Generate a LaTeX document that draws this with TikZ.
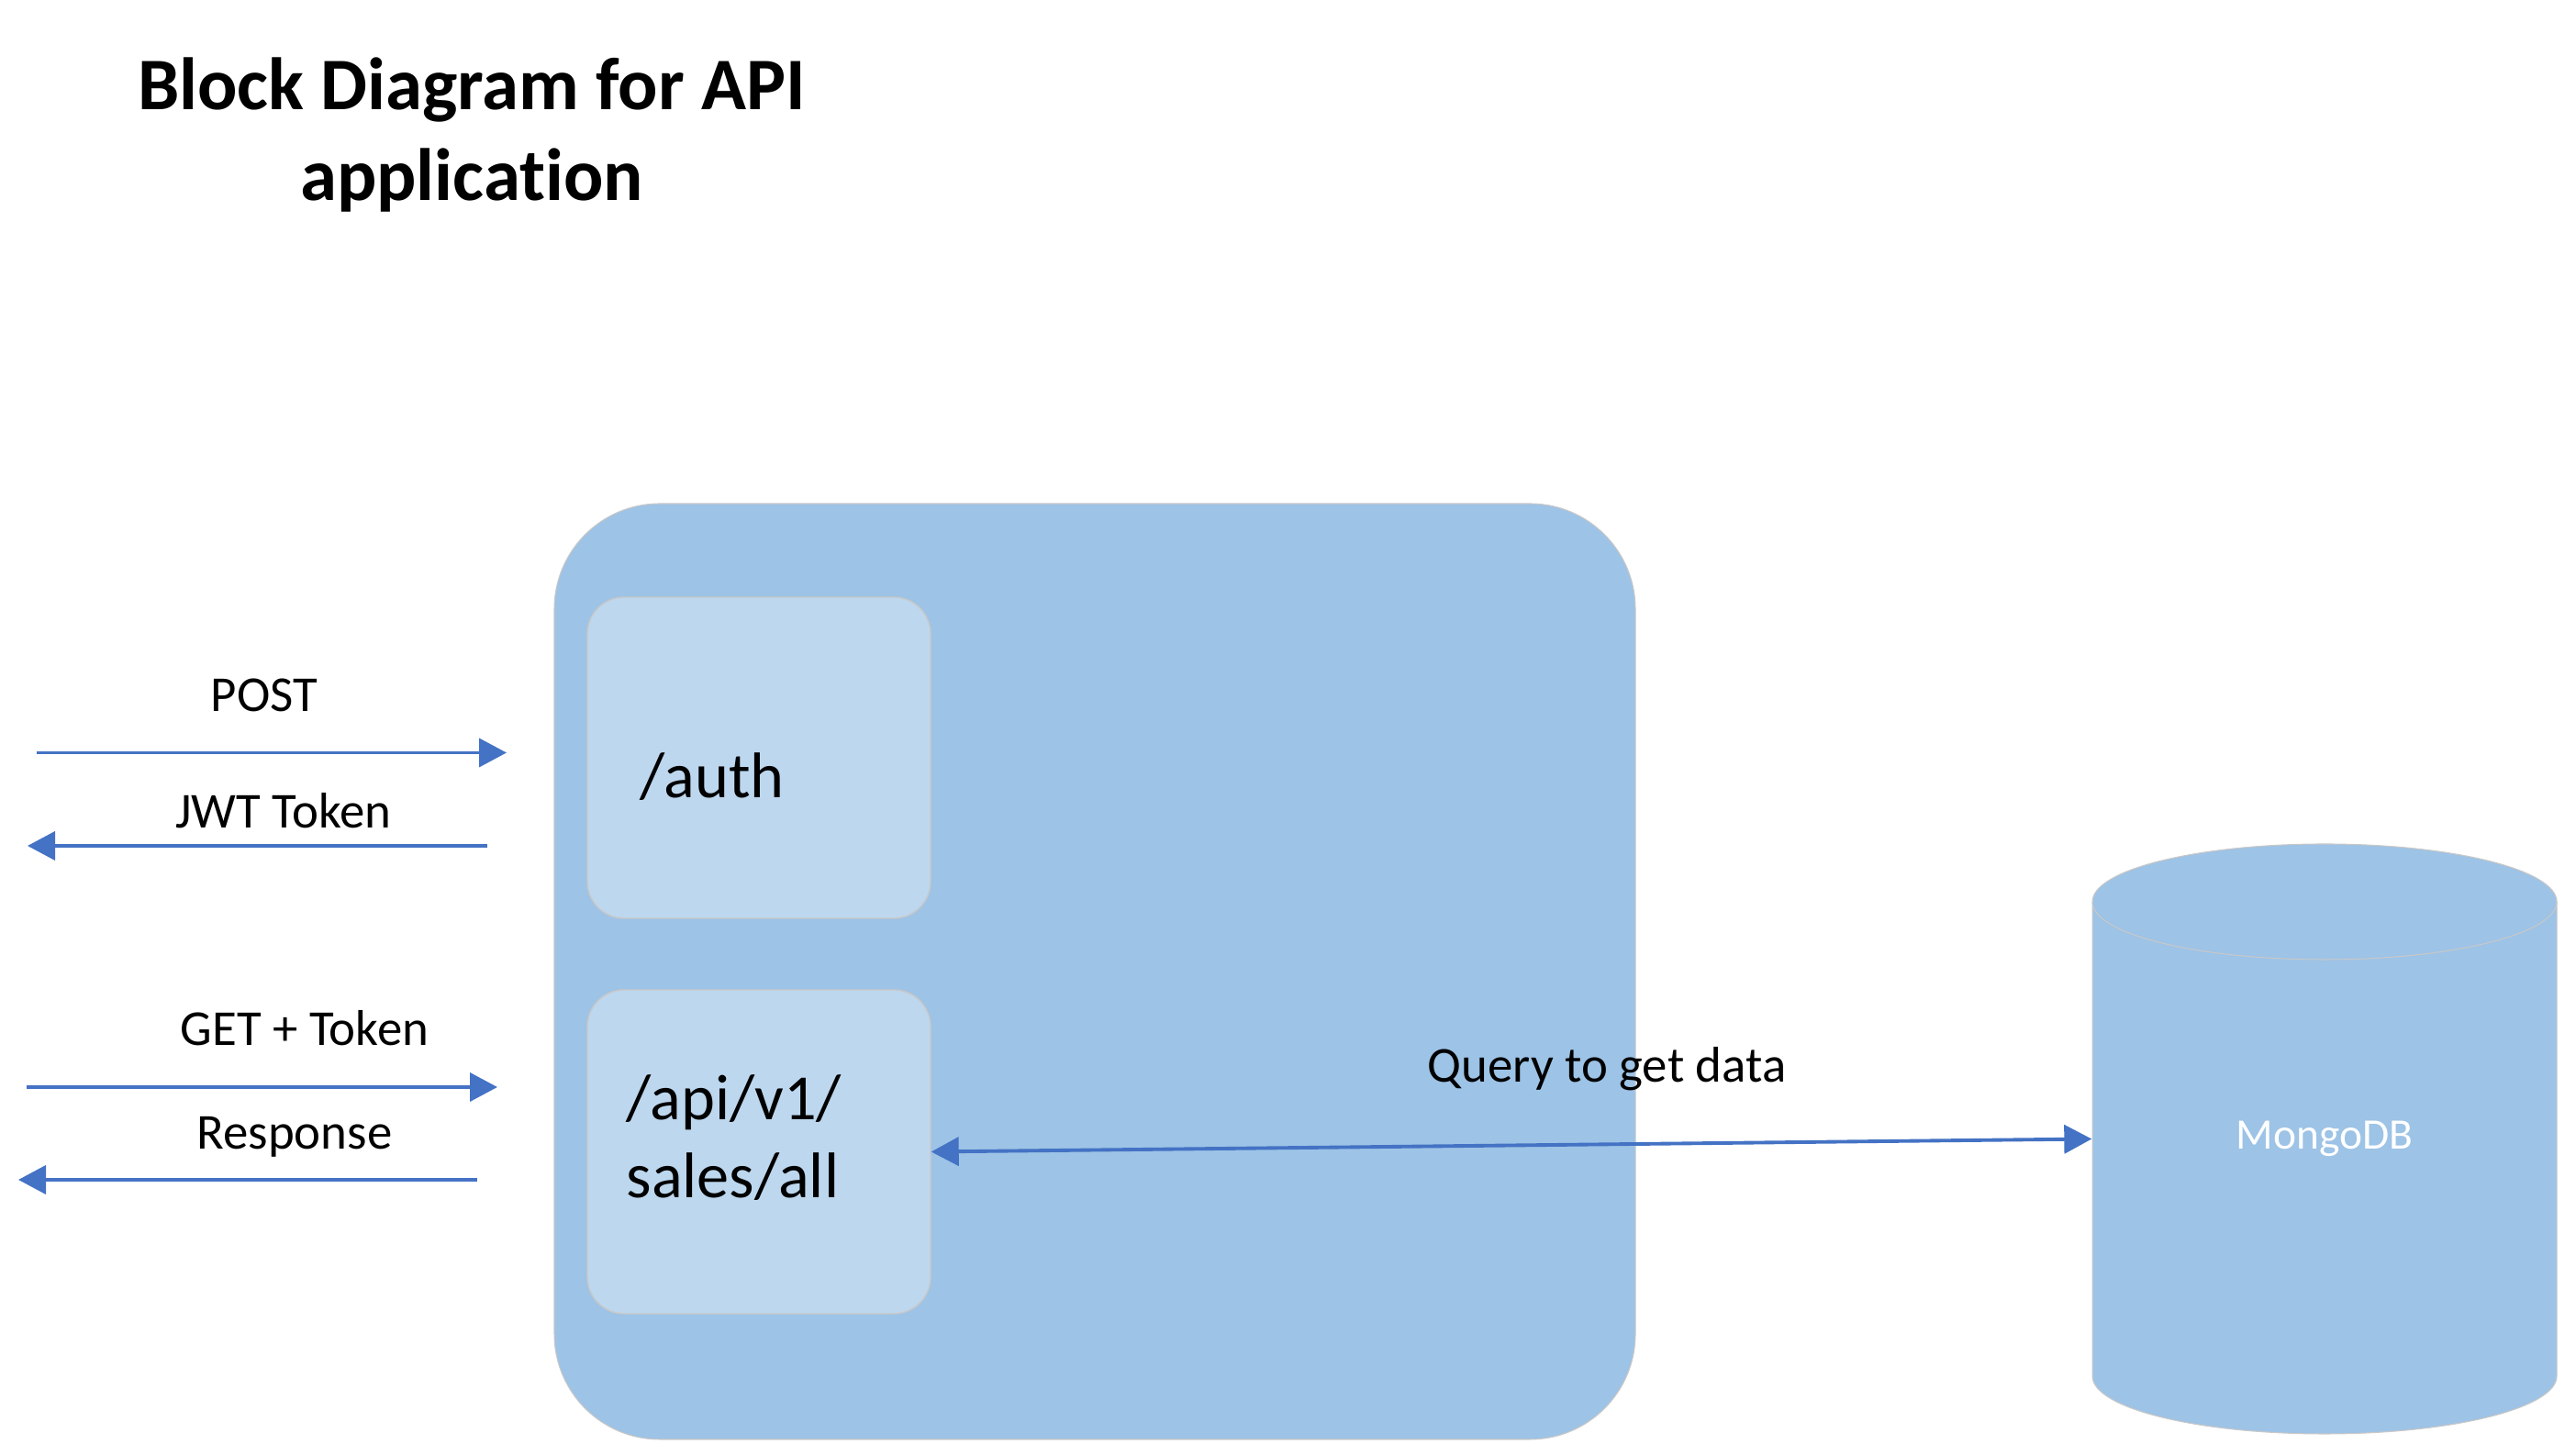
\documentclass[tikz,border=0pt]{standalone}
\usepackage{fontspec}
\setmainfont{Carlito}[Ligatures=NoCommon]
\usetikzlibrary{arrows.meta}
\usetikzlibrary{positioning}
\definecolor{appblue}{HTML}{9DC3E6}
\definecolor{subblue}{HTML}{BDD7EE}
\definecolor{linkblue}{HTML}{4472C4}
\definecolor{edgegray}{HTML}{C8C8C8}

\begin{document}
\begin{tikzpicture}[
  >={Triangle[length=3mm,width=3.1mm]},
  flow/.style={draw=linkblue,line width=1.1pt},
  subbox/.style={rectangle,rounded corners=0.4cm,fill=subblue,draw=edgegray,line width=0.4pt,minimum width=3.74cm,minimum height=3.5cm,inner sep=0pt},
  lbl/.style={font=\fontsize{15.6}{18}\selectfont,inner sep=0pt},
  pathlbl/.style={font=\fontsize{20}{24.4}\selectfont,inner sep=0pt,align=left}
]
\useasboundingbox (0,0) rectangle (28.07,15.86);

\node[font=\bfseries\fontsize{23}{27.9}\selectfont,align=center,inner sep=0pt] (title) at (5.14,14.39) {Block Diagram for API\\application};

\node[rectangle,rounded corners=1.15cm,fill=appblue,draw=edgegray,line width=0.3pt,minimum width=11.78cm,minimum height=10.2cm] (app) at (11.93,5.27) {};
\node[subbox] (auth) at (8.27,7.60) {};
\node[subbox,minimum height=3.53cm] (api) at (8.27,3.305) {};
\node[pathlbl,anchor=base west] (authlbl) at (6.97,7.16) {/auth};
\node[pathlbl,anchor=base west] (apilbl) at (6.82,2.80) {/api/v1/\\sales/all};

\path[fill=appblue,draw=edgegray,line width=0.3pt] (22.80,6.03) arc[start angle=180,end angle=0,x radius=2.53cm,y radius=0.63cm] -- (27.86,0.86) arc[start angle=0,end angle=-180,x radius=2.53cm,y radius=0.63cm] -- cycle;
\draw[edgegray,line width=0.3pt] (22.80,6.03) arc[start angle=180,end angle=360,x radius=2.53cm,y radius=0.63cm];
\node[minimum width=5.06cm,minimum height=6.43cm,inner sep=0pt,text=white,font=\fontsize{13.5}{16}\selectfont] (db) at (25.33,3.445) {MongoDB};

\coordinate (postS) at (0.40,7.655);
\coordinate (postE) at (5.52,7.655);
\coordinate (jwtS) at (5.31,6.64);
\coordinate (jwtE) at (0.30,6.64);
\coordinate (getS) at (0.29,4.01);
\coordinate (getE) at (5.42,4.01);
\coordinate (respS) at (5.20,3.00);
\coordinate (respE) at (0.20,3.00);

\draw[flow,->] (postS) -- (postE);
\draw[flow,->] (jwtS) -- (jwtE);
\draw[flow,->] (getS) -- (getE);
\draw[flow,->] (respS) -- (respE);
\draw[flow,<->] (api.east) -- (db.west);

\node[lbl,anchor=base] (postlbl) at (2.88,8.10) {POST};
\node[lbl,anchor=base] (jwtlbl) at (3.09,6.83) {JWT Token};
\node[lbl,anchor=base] (getlbl) at (3.32,4.46) {GET + Token};
\node[lbl,anchor=base] (resplbl) at (3.21,3.33) {Response};
\node[lbl,anchor=base] (querylbl) at (17.51,4.06) {Query to get data};

\end{tikzpicture}
\end{document}
